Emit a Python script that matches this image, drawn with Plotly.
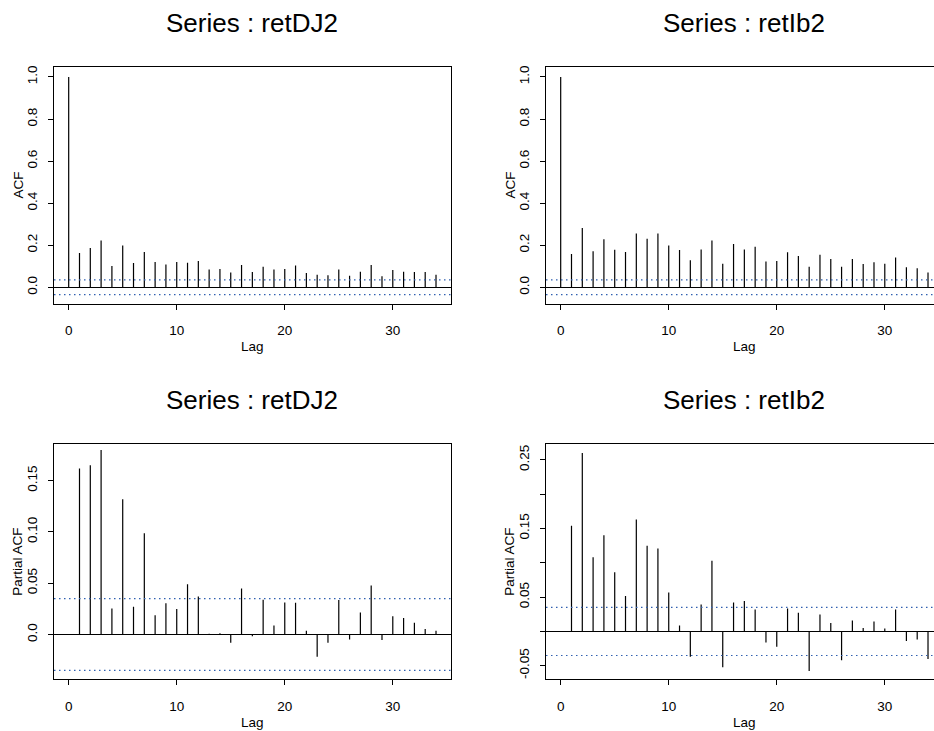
import plotly.graph_objects as go

# ---------------- data ----------------
lags_acf = list(range(0, 35))
lags_pacf = list(range(1, 35))

acf_dj = [1.0, 0.163, 0.187, 0.222, 0.101, 0.199, 0.116, 0.168, 0.120, 0.108,
          0.120, 0.117, 0.125, 0.084, 0.087, 0.070, 0.106, 0.073, 0.097, 0.084,
          0.087, 0.103, 0.068, 0.059, 0.057, 0.085, 0.055, 0.074, 0.106, 0.052,
          0.082, 0.074, 0.073, 0.073, 0.059]
acf_ib = [1.0, 0.158, 0.282, 0.171, 0.228, 0.179, 0.168, 0.256, 0.231, 0.256,
          0.199, 0.177, 0.128, 0.180, 0.223, 0.112, 0.206, 0.180, 0.193, 0.122,
          0.125, 0.166, 0.149, 0.098, 0.155, 0.134, 0.098, 0.134, 0.111, 0.119,
          0.112, 0.141, 0.095, 0.090, 0.070]
pacf_dj = [0.162, 0.165, 0.180, 0.0253, 0.132, 0.027, 0.0987, 0.0188, 0.0306, 0.025,
           0.049, 0.0372, 0.0007, 0.0013, -0.0079, 0.045, -0.0016, 0.0339, 0.0089, 0.0313,
           0.0309, 0.0036, -0.0217, -0.0079, 0.0336, -0.0049, 0.0214, 0.0477, -0.0053, 0.0178,
           0.0161, 0.0115, 0.0053, 0.0036]
pacf_ib = [0.154, 0.260, 0.108, 0.140, 0.0864, 0.0515, 0.163, 0.125, 0.121, 0.0568,
           0.0087, -0.0369, 0.0393, 0.103, -0.0524, 0.0422, 0.0442, 0.032, -0.016, -0.0223,
           0.0335, 0.0272, -0.0578, 0.0248, 0.0121, -0.0422, 0.016, 0.0049, 0.0146, 0.0044,
           0.032, -0.0141, -0.0117, -0.0403]
ci_bound = 0.0350

titles = ["Series : retDJ2", "Series : retIb2", "Series : retDJ2", "Series : retIb2"]
ylabels = ["ACF", "ACF", "Partial ACF", "Partial ACF"]
xlabel = "Lag"
xticks = [0, 10, 20, 30]
yticks_acf = [0.0, 0.2, 0.4, 0.6, 0.8, 1.0]
yticks_acf_text = ["0.0", "0.2", "0.4", "0.6", "0.8", "1.0"]
yticks_p1 = [0.0, 0.05, 0.10, 0.15]
yticks_p1_text = ["0.0", "0.05", "0.10", "0.15"]
yticks_p2 = [-0.05, 0.0, 0.05, 0.10, 0.15, 0.20, 0.25]
yticks_p2_text = ["-0.05", "", "0.05", "", "0.15", "", "0.25"]

# ---------------- layout geometry (pixels) ----------------
W, H = 934, 731
FONT = "Liberation Sans, Arial, Helvetica, sans-serif"
boxes = [  # left, right, top, bottom (px)
    (54.0, 450.7, 65.5, 302.5),
    (546.0, 934.0, 65.5, 302.5),
    (54.0, 450.7, 443.3, 679.3),
    (546.0, 934.0, 443.3, 679.3),
]
full_box_w = 396.7
xr_full = [-1.36, 35.36]
xr_cut = [-1.36, -1.36 + (934.0 - 546.0) / full_box_w * (xr_full[1] - xr_full[0])]
xranges = [xr_full, xr_cut, xr_full, xr_cut]
yranges = [[-0.078, 1.046], [-0.078, 1.046], [-0.0438, 0.1857], [-0.070, 0.273]]
ytickvals = [yticks_acf, yticks_acf, yticks_p1, yticks_p2]
yticktext = [yticks_acf_text, yticks_acf_text, yticks_p1_text, yticks_p2_text]

series = [(lags_acf, acf_dj), (lags_acf, acf_ib), (lags_pacf, pacf_dj), (lags_pacf, pacf_ib)]


def px_x(p):
    return p / W


def px_y(p):
    return 1 - p / H


fig = go.Figure()
annotations = []
shapes = []

for i in range(4):
    L, R, T, B = boxes[i]
    sfx = "" if i == 0 else str(i + 1)
    xa, ya = "x" + sfx, "y" + sfx
    lags, vals = series[i]
    xs, ys = [], []
    for lg, v in zip(lags, vals):
        xs += [lg, lg, None]
        ys += [0, v, None]
    fig.add_trace(go.Scatter(x=xs, y=ys, mode="lines", xaxis=xa, yaxis=ya,
                             line=dict(color="black", width=1.2),
                             hoverinfo="skip", showlegend=False))
    cut = i in (1, 3)
    common = dict(showgrid=False, showline=True, linecolor="black", linewidth=1,
                  ticks="outside", ticklen=5, tickwidth=1, tickcolor="black",
                  tickfont=dict(family=FONT, size=13.5, color="black"))
    fig.layout["xaxis" + sfx] = dict(
        domain=[px_x(L), px_x(R)], range=xranges[i], anchor=ya,
        tickvals=xticks, ticktext=[str(t) for t in xticks],
        mirror=True, zeroline=False, ticklabelstandoff=9, **common)
    fig.layout["yaxis" + sfx] = dict(
        domain=[px_y(B), px_y(T)], range=yranges[i], anchor=xa,
        tickvals=ytickvals[i], ticktext=yticktext[i], tickangle=-90,
        mirror=not cut, zeroline=True, zerolinecolor="black", zerolinewidth=1,
        ticklabelstandoff=6, **common)
    # confidence bounds
    for c in (ci_bound, -ci_bound):
        shapes.append(dict(type="line", xref=xa + " domain", yref=ya,
                           x0=0, x1=1, y0=c, y1=c,
                           line=dict(color="#2f5fb0", width=1.1, dash="1.5px,3.5px")))
    cx = (L + (L + full_box_w)) / 2
    annotations.append(dict(text=titles[i], x=px_x(cx), y=px_y(T - 44), xref="paper", yref="paper",
                            xanchor="center", yanchor="middle", showarrow=False,
                            font=dict(family=FONT, size=26, color="black")))
    annotations.append(dict(text=xlabel, x=px_x(cx), y=px_y(B + 43), xref="paper", yref="paper",
                            xanchor="center", yanchor="middle", showarrow=False,
                            font=dict(family=FONT, size=13.5, color="black")))
    annotations.append(dict(text=ylabels[i], x=px_x(L - 36), y=px_y((T + B) / 2), xref="paper",
                            yref="paper", xanchor="center", yanchor="middle", showarrow=False,
                            textangle=-90, font=dict(family=FONT, size=13.5, color="black")))

fig.update_layout(width=W, height=H, margin=dict(l=0, r=0, t=0, b=0),
                  paper_bgcolor="white", plot_bgcolor="white",
                  annotations=annotations, shapes=shapes, showlegend=False,
                  font=dict(family=FONT, color="black"))
fig.write_html("out.html")
